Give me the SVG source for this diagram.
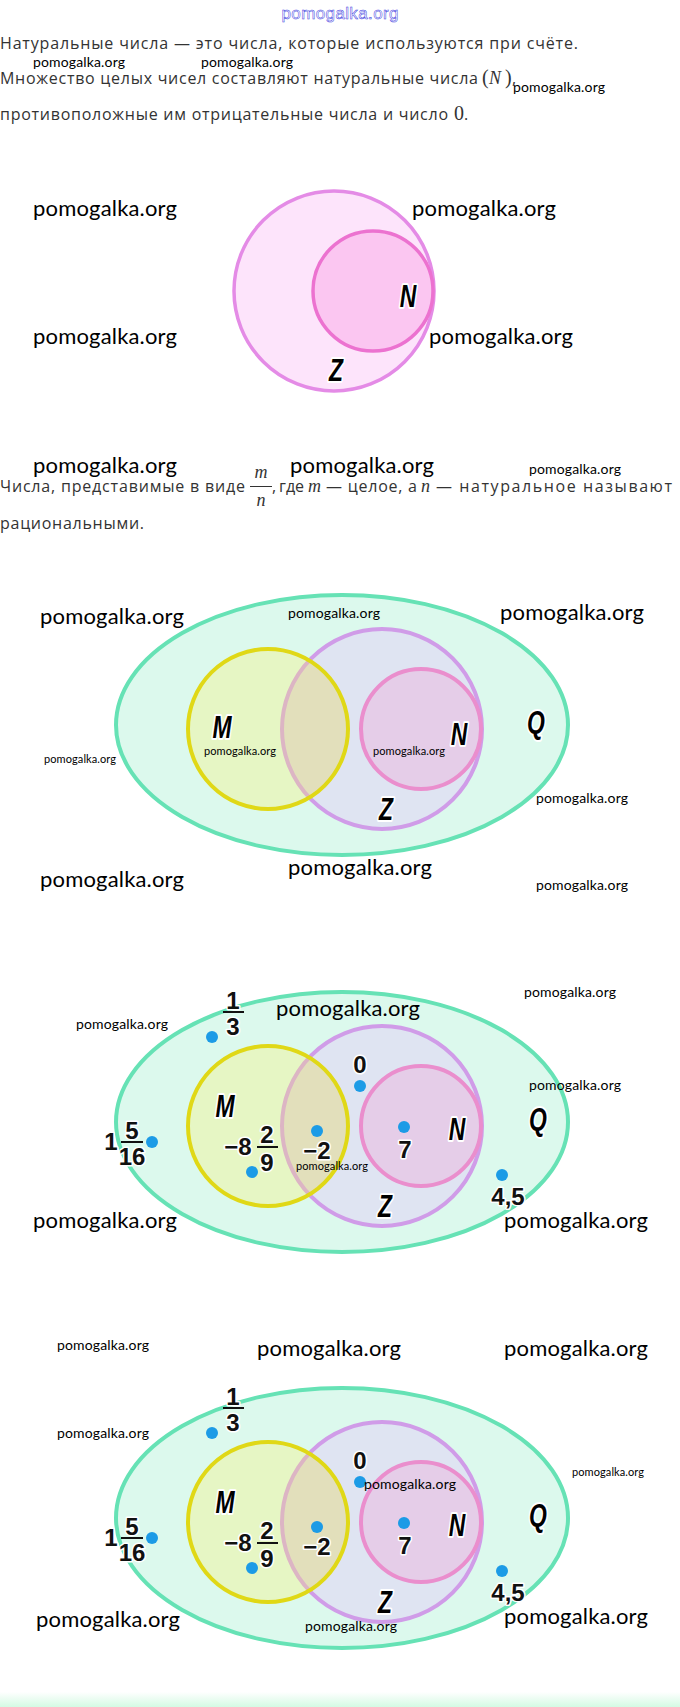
<svg xmlns="http://www.w3.org/2000/svg" xmlns:xlink="http://www.w3.org/1999/xlink" width="680" height="1707" viewBox="0 0 680 1707">
<style>
.body{font-family:"Open Sans",Roboto,"Liberation Sans",sans-serif;font-size:16px;fill:#333}
.math{font-family:"Liberation Serif",serif;font-style:italic;font-size:18px;fill:#333}
.mathr{font-family:"Liberation Serif",serif;font-size:20px;fill:#333}
.wmL{font-family:Lato,"Open Sans",sans-serif;font-size:22px;fill:#000}
.wmM{font-family:Lato,"Open Sans",sans-serif;font-size:14px;fill:#000}
.wmS{font-family:Lato,"Open Sans",sans-serif;font-size:11px;fill:#000}
.lbl{font-family:"Liberation Sans",Arial,sans-serif;font-weight:bold;font-style:italic;font-size:31px;fill:#000;stroke:#fff;stroke-width:4;paint-order:stroke;stroke-linejoin:round;text-anchor:middle}
.num{font-family:"Liberation Sans",Arial,sans-serif;font-weight:bold;font-size:24px;fill:#111;stroke:#fff;stroke-width:3;paint-order:stroke;stroke-linejoin:round;text-anchor:middle}
.bar{stroke:#111;stroke-width:2}
.dot{fill:#1c9be6}
</style>
<defs>
<linearGradient id="foot" x1="0" y1="0" x2="0" y2="1">
<stop offset="0" stop-color="#ffffff"/>
<stop offset="1" stop-color="#d4fae3"/>
</linearGradient>
<clipPath id="clipM"><circle cx="268" cy="729" r="80"/></clipPath>
<g id="venn">
<ellipse cx="342" cy="725" rx="226" ry="130" fill="#dcf9ed" stroke="#66e2b5" stroke-width="4"/>
<circle cx="382" cy="729" r="100" fill="#dfe4f2"/>
<circle cx="421" cy="729" r="60" fill="#e5cde8"/>
<circle cx="382" cy="729" r="100" fill="none" stroke="#d09ce8" stroke-width="4"/>
<circle cx="421" cy="729" r="60" fill="none" stroke="#ea8ecd" stroke-width="4"/>
<circle cx="268" cy="729" r="80" fill="#e6f6c4"/>
<g clip-path="url(#clipM)">
<circle cx="382" cy="729" r="100" fill="#e2dfbb" stroke="#dcb5c4" stroke-width="4"/>
</g>
<circle cx="268" cy="729" r="80" fill="none" stroke="#e0d816" stroke-width="4"/>
</g>
<g id="pts">
<circle class="dot" cx="212" cy="640" r="6"/>
<circle class="dot" cx="360" cy="689" r="6"/>
<circle class="dot" cx="317" cy="734" r="6"/>
<circle class="dot" cx="152" cy="745" r="6"/>
<circle class="dot" cx="404" cy="730" r="6"/>
<circle class="dot" cx="252" cy="775" r="6"/>
<circle class="dot" cx="502" cy="778" r="6"/>
<text class="num" x="233" y="612">1</text>
<line class="bar" x1="223" y1="615" x2="244" y2="615"/>
<text class="num" x="233" y="638">3</text>
<text class="num" x="360" y="676">0</text>
<text class="num" x="111" y="753">1</text>
<text class="num" x="132" y="742">5</text>
<line class="bar" x1="121" y1="745" x2="143" y2="745"/>
<text class="num" x="132" y="768">16</text>
<text class="num" x="238" y="758">−8</text>
<text class="num" x="267" y="746">2</text>
<line class="bar" x1="257" y1="750" x2="278" y2="750"/>
<text class="num" x="267" y="774">9</text>
<text class="num" x="317" y="762">−2</text>
<text class="num" x="405" y="761">7</text>
<text class="num" x="508" y="808">4,5</text>
</g>
</defs>
<rect width="680" height="1707" fill="#fff"/>

<g id="header">
<text x="340" y="19" text-anchor="middle" font-family="'Liberation Sans',sans-serif" font-size="17" fill="#fff" stroke="#3a3ae0" stroke-width="0.5" textLength="117">pomogalka.org</text>
</g>

<g id="text1">
<text class="body" x="0" y="49" textLength="578">Натуральные числа — это числа, которые используются при счёте.</text>
<text class="body" x="0" y="84" textLength="478">Множество целых чисел составляют натуральные числа</text>
<text class="mathr" x="482" y="84">(</text>
<text class="math" x="489" y="84" font-size="21">N</text>
<text class="mathr" x="505" y="84">)</text>
<text class="body" x="512" y="84">,</text>
<text class="body" x="0" y="120" textLength="448">противоположные им отрицательные числа и число</text>
<text class="mathr" x="454" y="120">0</text>
<text class="body" x="464" y="120">.</text>
</g>

<g id="diagram1">
<circle cx="334" cy="291" r="100" fill="#fde4fb" stroke="#e48be6" stroke-width="3.5"/>
<circle cx="373" cy="291" r="60" fill="#fbc6f1" stroke="#ec72d0" stroke-width="3.5"/>
<text class="lbl" transform="translate(408,307) scale(0.74,1)">N</text>
<text class="lbl" transform="translate(336,381) scale(0.74,1)">Z</text>
</g>

<g id="text2">
<text class="body" x="0" y="492" textLength="245">Числа, представимые в виде</text>
<text class="math" x="261" y="478" text-anchor="middle">m</text>
<line x1="250" y1="486.5" x2="272" y2="486.5" stroke="#333" stroke-width="1"/>
<text class="math" x="261" y="506" text-anchor="middle">n</text>
<text class="body" x="272" y="492">,</text>
<text class="body" x="279" y="492">где</text>
<text class="math" x="308" y="492">m</text>
<text class="body" x="326" y="492" textLength="91">— целое, а</text>
<text class="math" x="421" y="492">n</text>
<text class="body" x="436" y="492" font-size="16.5" textLength="236">— натуральное называют</text>
<text class="body" x="0" y="529" textLength="144">рациональными.</text>
</g>

<g id="diagram2">
<use xlink:href="#venn"/>
<text class="lbl" transform="translate(222,738) scale(0.74,1)">M</text>
<text class="lbl" transform="translate(459,745) scale(0.74,1)">N</text>
<text class="lbl" transform="translate(536,733) scale(0.74,1)">Q</text>
<text class="lbl" transform="translate(386,820) scale(0.74,1)">Z</text>
</g>

<g id="diagram3">
<use xlink:href="#venn" y="397"/>
<use xlink:href="#pts" y="397"/>
<g transform="translate(0,397)">
<text class="lbl" transform="translate(225,720) scale(0.74,1)">M</text>
<text class="lbl" transform="translate(457,743) scale(0.74,1)">N</text>
<text class="lbl" transform="translate(538,733) scale(0.74,1)">Q</text>
<text class="lbl" transform="translate(385,820) scale(0.74,1)">Z</text>
</g>
</g>

<g id="diagram4">
<use xlink:href="#venn" y="793"/>
<use xlink:href="#pts" y="793"/>
<g transform="translate(0,793)">
<text class="lbl" transform="translate(225,720) scale(0.74,1)">M</text>
<text class="lbl" transform="translate(457,743) scale(0.74,1)">N</text>
<text class="lbl" transform="translate(538,733) scale(0.74,1)">Q</text>
<text class="lbl" transform="translate(385,820) scale(0.74,1)">Z</text>
</g>
</g>

<g id="watermarks">
<text class="wmM" x="33" y="66.5" textLength="92">pomogalka.org</text>
<text class="wmM" x="201" y="66.5" textLength="92">pomogalka.org</text>
<text class="wmM" x="513" y="91.5" textLength="92">pomogalka.org</text>
<text class="wmL" x="33" y="215.5" textLength="144">pomogalka.org</text>
<text class="wmL" x="412" y="215.5" textLength="144">pomogalka.org</text>
<text class="wmL" x="33" y="343.5" textLength="144">pomogalka.org</text>
<text class="wmL" x="429" y="343.5" textLength="144">pomogalka.org</text>
<text class="wmL" x="33" y="472.5" textLength="144">pomogalka.org</text>
<text class="wmL" x="290" y="472.5" textLength="144">pomogalka.org</text>
<text class="wmM" x="529" y="473.5" textLength="92">pomogalka.org</text>
<text class="wmL" x="40" y="623.5" textLength="144">pomogalka.org</text>
<text class="wmM" x="288" y="617.5" textLength="92">pomogalka.org</text>
<text class="wmL" x="500" y="619.5" textLength="144">pomogalka.org</text>
<text class="wmS" x="44" y="763" textLength="72">pomogalka.org</text>
<text class="wmS" x="204" y="755" textLength="72">pomogalka.org</text>
<text class="wmS" x="373" y="755" textLength="72">pomogalka.org</text>
<text class="wmM" x="536" y="802.5" textLength="92">pomogalka.org</text>
<text class="wmL" x="40" y="886.5" textLength="144">pomogalka.org</text>
<text class="wmL" x="288" y="874.5" textLength="144">pomogalka.org</text>
<text class="wmM" x="536" y="889.5" textLength="92">pomogalka.org</text>
<text class="wmM" x="524" y="996.5" textLength="92">pomogalka.org</text>
<text class="wmM" x="76" y="1028.5" textLength="92">pomogalka.org</text>
<text class="wmL" x="276" y="1015.5" textLength="144">pomogalka.org</text>
<text class="wmM" x="529" y="1089.5" textLength="92">pomogalka.org</text>
<text class="wmS" x="296" y="1170" textLength="72">pomogalka.org</text>
<text class="wmL" x="33" y="1227.5" textLength="144">pomogalka.org</text>
<text class="wmL" x="504" y="1227.5" textLength="144">pomogalka.org</text>
<text class="wmM" x="57" y="1349.5" textLength="92">pomogalka.org</text>
<text class="wmL" x="257" y="1355.5" textLength="144">pomogalka.org</text>
<text class="wmL" x="504" y="1355.5" textLength="144">pomogalka.org</text>
<text class="wmM" x="57" y="1437.5" textLength="92">pomogalka.org</text>
<text class="wmS" x="572" y="1476" textLength="72">pomogalka.org</text>
<text class="wmM" x="364" y="1488.5" textLength="92">pomogalka.org</text>
<text class="wmL" x="36" y="1626.5" textLength="144">pomogalka.org</text>
<text class="wmM" x="305" y="1630.5" textLength="92">pomogalka.org</text>
<text class="wmL" x="504" y="1623.5" textLength="144">pomogalka.org</text>
</g>

<rect id="footer" x="0" y="1692" width="680" height="15" fill="url(#foot)"/>
</svg>
